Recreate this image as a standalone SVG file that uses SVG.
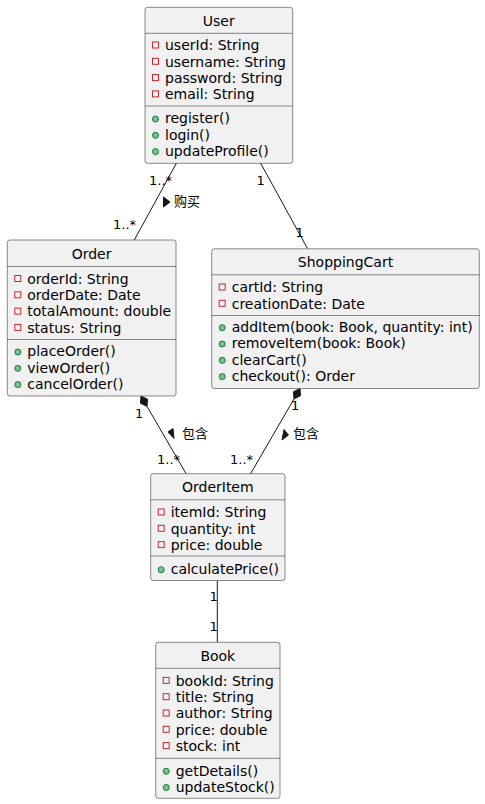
<svg xmlns="http://www.w3.org/2000/svg" width="485" height="804" viewBox="0 0 485 804">
<style>
.box{fill:#F1F1F1;stroke:#181818;stroke-width:0.5}
.sep{stroke:#181818;stroke-width:0.5}
.t{font-family:"DejaVu Sans","Noto Sans CJK SC",sans-serif;font-size:14px;fill:#000}
.title{text-anchor:middle}
.lbl{font-family:"DejaVu Sans","Noto Sans CJK SC",sans-serif;font-size:13px;fill:#000}
.priv{fill:none;stroke:#C82930;stroke-width:1}
.pub{fill:#84BE84;stroke:#038048;stroke-width:1}
.edge{stroke:#181818;stroke-width:1;fill:none}
.head{fill:#181818;stroke:#181818;stroke-width:1}
</style>
<rect width="485" height="804" fill="#FFFFFF"/>
<g id="connectors">
  <line class="edge" x1="176.5" y1="163" x2="134.3" y2="240"/>
  <text class="lbl" x="149" y="185">1..*</text>
  <text class="lbl" x="113" y="228.5">1..*</text>
  <polygon class="head" points="163.5,197 170,202 163.5,207"/>
  <text class="lbl" x="174" y="206">购买</text>

  <line class="edge" x1="260.5" y1="163" x2="307.5" y2="248.5"/>
  <text class="lbl" x="256.5" y="185">1</text>
  <text class="lbl" x="295.5" y="236.5">1</text>

  <line class="edge" x1="147" y1="406.4" x2="186" y2="473.5"/>
  <polygon class="head" points="141,396 147.5,399.2 147,406.4 140.5,403.2"/>
  <text class="lbl" x="135" y="417.5">1</text>
  <text class="lbl" x="157" y="463.5">1..*</text>
  <polygon class="head" points="168,432 173,428.5 174,438.5"/>
  <text class="lbl" x="182" y="438">包含</text>

  <line class="edge" x1="294" y1="398.9" x2="250.7" y2="473.5"/>
  <polygon class="head" points="300,388.5 300.5,395.7 294,398.9 293.5,391.7"/>
  <text class="lbl" x="291" y="409.5">1</text>
  <text class="lbl" x="230" y="463.5">1..*</text>
  <polygon class="head" points="282,440 284,429.5 288.5,435"/>
  <text class="lbl" x="293" y="438">包含</text>

  <line class="edge" x1="217.3" y1="580.5" x2="217.3" y2="642"/>
  <text class="lbl" x="209.5" y="600.5">1</text>
  <text class="lbl" x="209.5" y="631">1</text>
</g>

<g id="User">
  <rect class="box" x="145" y="7.3" width="147.7" height="156" rx="2.5"/>
  <text class="t title" x="218.8" y="25.5">User</text>
  <line class="sep" x1="145" y1="33.3" x2="292.7" y2="33.3"/>
  <rect class="priv" x="152.5" y="42" width="6" height="6"/>
  <text class="t" x="165" y="50.3">userId: String</text>
  <rect class="priv" x="152.5" y="58.3" width="6" height="6"/>
  <text class="t" x="165" y="66.6">username: String</text>
  <rect class="priv" x="152.5" y="74.6" width="6" height="6"/>
  <text class="t" x="165" y="82.9">password: String</text>
  <rect class="priv" x="152.5" y="90.9" width="6" height="6"/>
  <text class="t" x="165" y="99.2">email: String</text>
  <line class="sep" x1="145" y1="106" x2="292.7" y2="106"/>
  <circle class="pub" cx="155.5" cy="119" r="3"/>
  <text class="t" x="165" y="123.3">register()</text>
  <circle class="pub" cx="155.5" cy="135.3" r="3"/>
  <text class="t" x="165" y="139.6">login()</text>
  <circle class="pub" cx="155.5" cy="151.6" r="3"/>
  <text class="t" x="165" y="155.9">updateProfile()</text>
</g>

<g id="Order">
  <rect class="box" x="7.3" y="240" width="168.7" height="156" rx="2.5"/>
  <text class="t title" x="91.6" y="258.5">Order</text>
  <line class="sep" x1="7.3" y1="266.5" x2="176" y2="266.5"/>
  <rect class="priv" x="14.8" y="275.5" width="6" height="6"/>
  <text class="t" x="27.3" y="283.8">orderId: String</text>
  <rect class="priv" x="14.8" y="291.8" width="6" height="6"/>
  <text class="t" x="27.3" y="300.1">orderDate: Date</text>
  <rect class="priv" x="14.8" y="308.1" width="6" height="6"/>
  <text class="t" x="27.3" y="316.4">totalAmount: double</text>
  <rect class="priv" x="14.8" y="324.4" width="6" height="6"/>
  <text class="t" x="27.3" y="332.7">status: String</text>
  <line class="sep" x1="7.3" y1="339.5" x2="176" y2="339.5"/>
  <circle class="pub" cx="17.8" cy="352" r="3"/>
  <text class="t" x="27.3" y="356.3">placeOrder()</text>
  <circle class="pub" cx="17.8" cy="368.3" r="3"/>
  <text class="t" x="27.3" y="372.6">viewOrder()</text>
  <circle class="pub" cx="17.8" cy="384.6" r="3"/>
  <text class="t" x="27.3" y="388.9">cancelOrder()</text>
</g>

<g id="ShoppingCart">
  <rect class="box" x="211.7" y="248.8" width="267.6" height="139.7" rx="2.5"/>
  <text class="t title" x="345.5" y="267">ShoppingCart</text>
  <line class="sep" x1="211.7" y1="274.8" x2="479.3" y2="274.8"/>
  <rect class="priv" x="219.2" y="284" width="6" height="6"/>
  <text class="t" x="231.7" y="292.3">cartId: String</text>
  <rect class="priv" x="219.2" y="300.3" width="6" height="6"/>
  <text class="t" x="231.7" y="308.6">creationDate: Date</text>
  <line class="sep" x1="211.7" y1="315.5" x2="479.3" y2="315.5"/>
  <circle class="pub" cx="222.2" cy="327.7" r="3"/>
  <text class="t" x="231.7" y="332">addItem(book: Book, quantity: int)</text>
  <circle class="pub" cx="222.2" cy="344" r="3"/>
  <text class="t" x="231.7" y="348.3">removeItem(book: Book)</text>
  <circle class="pub" cx="222.2" cy="360.3" r="3"/>
  <text class="t" x="231.7" y="364.6">clearCart()</text>
  <circle class="pub" cx="222.2" cy="376.6" r="3"/>
  <text class="t" x="231.7" y="380.9">checkout(): Order</text>
</g>

<g id="OrderItem">
  <rect class="box" x="150.7" y="473.7" width="134.3" height="106.8" rx="2.5"/>
  <text class="t title" x="217.8" y="492">OrderItem</text>
  <line class="sep" x1="150.7" y1="499.8" x2="285" y2="499.8"/>
  <rect class="priv" x="158.2" y="509" width="6" height="6"/>
  <text class="t" x="170.7" y="517.3">itemId: String</text>
  <rect class="priv" x="158.2" y="525.3" width="6" height="6"/>
  <text class="t" x="170.7" y="533.6">quantity: int</text>
  <rect class="priv" x="158.2" y="541.6" width="6" height="6"/>
  <text class="t" x="170.7" y="549.9">price: double</text>
  <line class="sep" x1="150.7" y1="556" x2="285" y2="556"/>
  <circle class="pub" cx="161.2" cy="569.7" r="3"/>
  <text class="t" x="170.7" y="574">calculatePrice()</text>
</g>

<g id="Book">
  <rect class="box" x="155.7" y="642.3" width="124.3" height="156" rx="2.5"/>
  <text class="t title" x="217.8" y="660.5">Book</text>
  <line class="sep" x1="155.7" y1="668.3" x2="280" y2="668.3"/>
  <rect class="priv" x="163.2" y="677.4" width="6" height="6"/>
  <text class="t" x="175.7" y="685.7">bookId: String</text>
  <rect class="priv" x="163.2" y="693.7" width="6" height="6"/>
  <text class="t" x="175.7" y="702">title: String</text>
  <rect class="priv" x="163.2" y="710" width="6" height="6"/>
  <text class="t" x="175.7" y="718.3">author: String</text>
  <rect class="priv" x="163.2" y="726.3" width="6" height="6"/>
  <text class="t" x="175.7" y="734.6">price: double</text>
  <rect class="priv" x="163.2" y="742.6" width="6" height="6"/>
  <text class="t" x="175.7" y="750.9">stock: int</text>
  <line class="sep" x1="155.7" y1="758.3" x2="280" y2="758.3"/>
  <circle class="pub" cx="166.2" cy="771.2" r="3"/>
  <text class="t" x="175.7" y="775.5">getDetails()</text>
  <circle class="pub" cx="166.2" cy="787.5" r="3"/>
  <text class="t" x="175.7" y="791.8">updateStock()</text>
</g>
</svg>
